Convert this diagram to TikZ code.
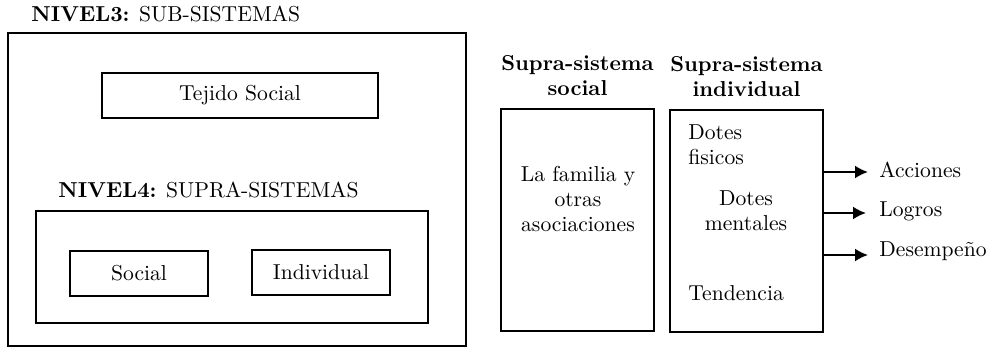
\documentclass[tikz,border=0pt]{standalone}
\usepackage{fontspec}
\usetikzlibrary{positioning, arrows.meta}

\tikzset{
  sysbox/.style={draw, line width=1pt, inner sep=0pt},
  txt/.style={inner sep=0pt, align=center},
  result/.style={anchor=west, inner sep=0pt},
}

\begin{document}
\begin{tikzpicture}[x=0.5pt, y=-0.5pt, ->, >={Latex[length=6.5pt, width=6.5pt]}, node distance=5pt]
        \fontsize{10.8}{12.5}\selectfont
        \useasboundingbox (0,0) rectangle (997,348);
        %
        \node [sysbox, minimum width=229pt, minimum height=156.5pt] (sub) at (237,189.5) {};
        \node [txt, anchor=west] (n3) at (31,14) {\textbf{NIVEL3:} SUB-SISTEMAS};
        \node [sysbox, minimum width=138pt, minimum height=22.5pt] (tejido) at (240,95.5) {Tejido Social};
        \node [sysbox, minimum width=196pt, minimum height=56pt] (supra) at (232,267) {};
        \node [txt, anchor=west] (n4) at (58,190) {\textbf{NIVEL4:} SUPRA-SISTEMAS};
        \node [sysbox, minimum width=69pt, minimum height=22.5pt] (soc) at (139,273.5) {Social};
        \node [sysbox, minimum width=69pt, minimum height=22.5pt] (ind) at (321,272.5) {Individual};
        %
        \node [sysbox, minimum width=76.5pt, minimum height=111pt] (sbox) at (577.5,220) {};
        \node [sysbox, minimum width=76.5pt, minimum height=111pt] (ibox) at (746.5,221) {};
        \node [txt, above=6pt of sbox] (shead) {\textbf{Supra-sistema}\\\textbf{social}};
        \node [txt, above=6pt of ibox] (ihead) {\textbf{Supra-sistema}\\\textbf{individual}};
        \node [txt] (fam) at (578,199) {La familia y\\otras\\asociaciones};
        \node [txt, anchor=west, align=left] (fis) at (688,144.5) {Dotes\\fisicos};
        \node [txt] (ment) at (746,210.5) {Dotes\\mentales};
        \node [txt, anchor=west] (tend) at (688,293) {Tendencia};
        %
        \node [result] (acc) at (879,170) {Acciones};
        \node [result] (log) at (879,211) {Logros};
        \node [result] (des) at (879,251) {Desempeño};
        %
        \path [line width=1pt] (ibox.east |- 0,172) edge[shorten >=5.5pt] (acc.west |- 0,172);
        \path [line width=1pt] (ibox.east |- 0,213) edge[shorten >=6.5pt] (log.west |- 0,213);
        \path [line width=1pt] (ibox.east |- 0,255) edge[shorten >=5.5pt] (des.west |- 0,255);
\end{tikzpicture}
\end{document}
